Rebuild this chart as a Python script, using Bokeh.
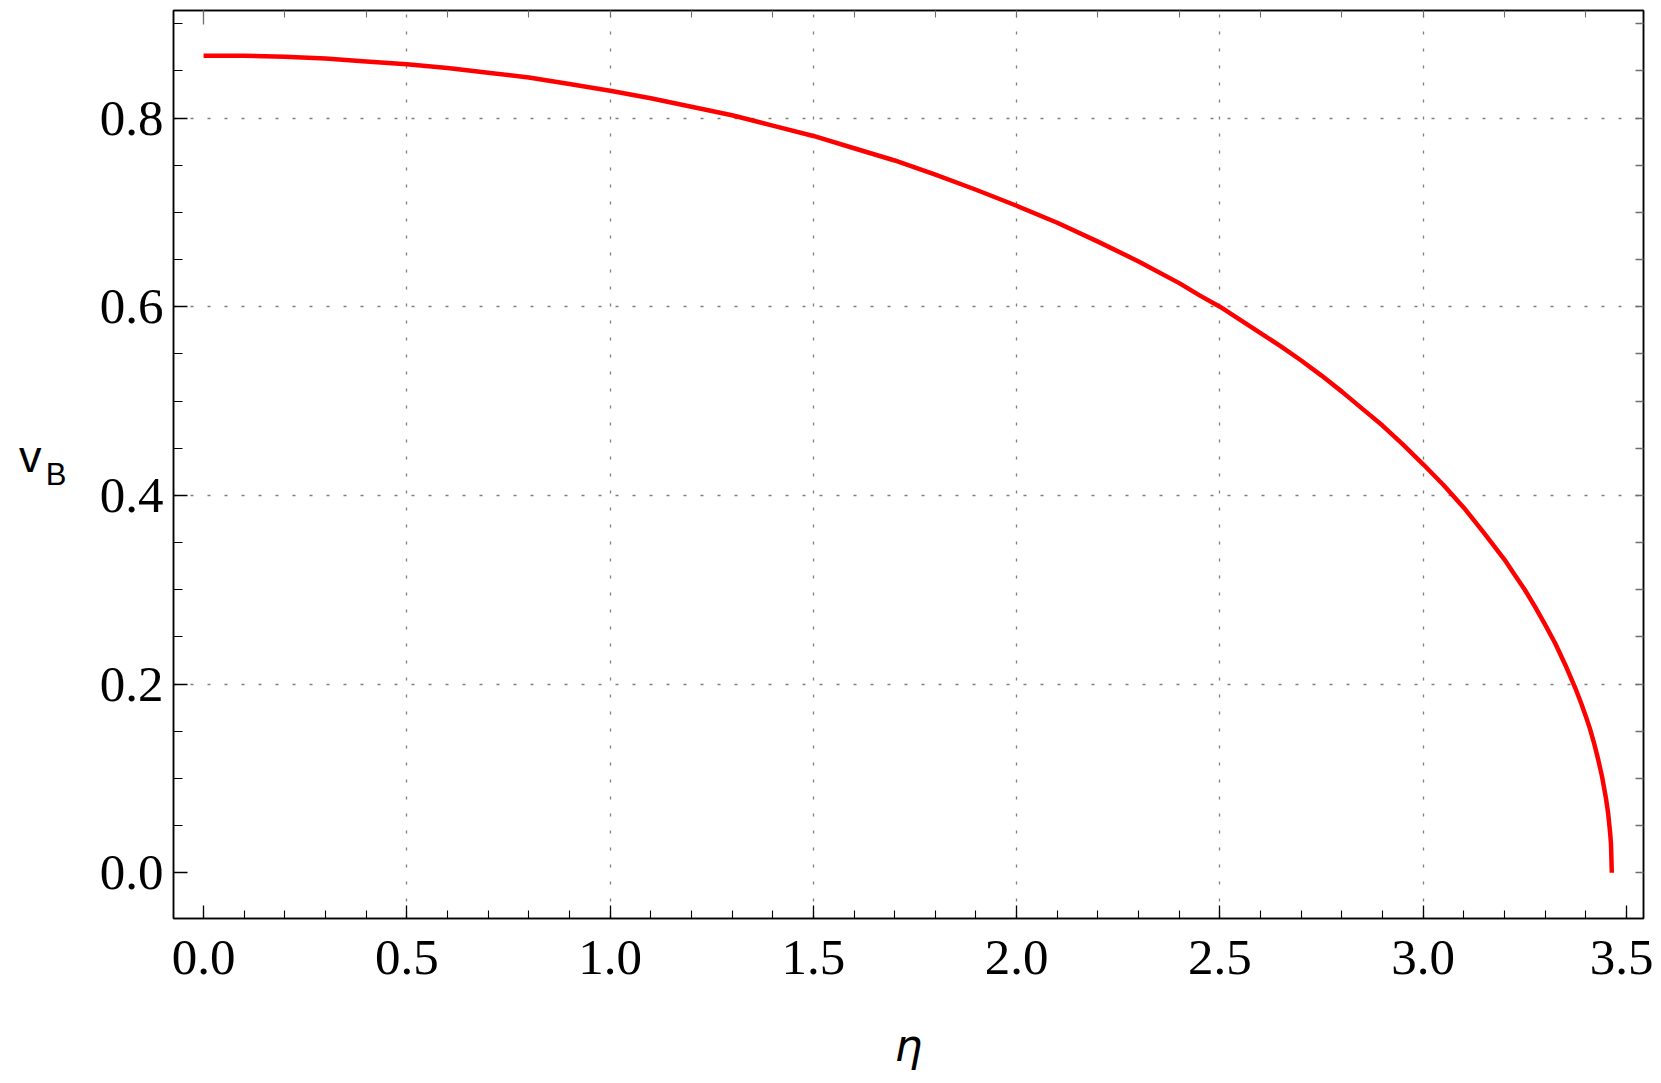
from bokeh.plotting import figure
from bokeh.models import Range1d, FixedTicker, LinearAxis, PrintfTickFormatter
from bokeh.embed import file_html
from bokeh.resources import INLINE

# data
eta = [0.0, 0.1, 0.2, 0.3, 0.4, 0.5, 0.6, 0.7, 0.8, 0.9, 1.0, 1.1, 1.2, 1.3, 1.4,
       1.5, 1.6, 1.7, 1.8, 1.9, 2.0, 2.1, 2.2, 2.3, 2.4, 2.45, 2.5, 2.55, 2.6, 2.65,
       2.7, 2.75, 2.8, 2.85, 2.9, 2.95, 3.0, 3.05, 3.1, 3.15, 3.2, 3.225, 3.25, 3.275,
       3.3, 3.325, 3.35, 3.375, 3.39, 3.4, 3.41, 3.42, 3.43, 3.44, 3.45, 3.455, 3.46,
       3.462, 3.464]
v_B = [0.866, 0.866, 0.865, 0.863, 0.860, 0.857, 0.853, 0.848, 0.843, 0.836, 0.829,
       0.821, 0.812, 0.803, 0.792, 0.781, 0.768, 0.755, 0.740, 0.724, 0.707, 0.689,
       0.669, 0.648, 0.625, 0.612, 0.600, 0.586, 0.572, 0.558, 0.543, 0.527, 0.510,
       0.492, 0.474, 0.454, 0.433, 0.411, 0.387, 0.360, 0.332, 0.316, 0.300, 0.282,
       0.263, 0.243, 0.220, 0.195, 0.178, 0.166, 0.153, 0.138, 0.121, 0.102, 0.078,
       0.063, 0.042, 0.031, 0.0]

x_major = [0.0, 0.5, 1.0, 1.5, 2.0, 2.5, 3.0, 3.5]
y_major = [0.0, 0.2, 0.4, 0.6, 0.8]
x_grid = [0.5, 1.0, 1.5, 2.0, 2.5, 3.0]
y_grid = [0.2, 0.4, 0.6, 0.8]
x_minor = [round(i * 0.1, 2) for i in range(-1, 36)]
y_minor = [round(i * 0.05, 3) for i in range(-1, 19)]
x_top_ticks = [round(i * 0.2, 2) for i in range(0, 18)]
y_right_ticks = [round(i * 0.05, 3) for i in range(-1, 19)]
x_title = "η"
y_title_main = "v"
y_title_sub = "B"

W, H = 1653, 1075
p = figure(width=W, height=H, output_backend="svg", toolbar_location=None,
           x_range=Range1d(-0.074, 3.542), y_range=Range1d(-0.0485, 0.914),
           min_border_left=173, min_border_right=10, min_border_top=10, min_border_bottom=157,
           x_axis_location=None, y_axis_location=None)
p.background_fill_color = "white"
p.border_fill_color = "white"
p.outline_line_color = "black"
p.outline_line_width = 1.5

FONT = "Liberation Serif"
TICK_GRAY = "#6e6e6e"

def style(ax, major, minor, labels=True, color="black", major_len=13, minor_len=8):
    ax.ticker = FixedTicker(ticks=major, minor_ticks=minor)
    ax.axis_line_color = "black"
    ax.axis_line_width = 1.5
    ax.major_tick_in = major_len
    ax.major_tick_out = 0
    ax.minor_tick_in = minor_len
    ax.minor_tick_out = 0
    ax.major_tick_line_color = color
    ax.minor_tick_line_color = color
    ax.major_tick_line_width = 1.3
    ax.minor_tick_line_width = 1.1
    ax.formatter = PrintfTickFormatter(format="%.1f")
    if labels:
        ax.major_label_text_font = FONT
        ax.major_label_text_font_size = "51px"
        ax.major_label_text_color = "black"
    else:
        ax.major_label_text_font_size = "0px"
        ax.major_label_text_color = None

def title_axis(text, size, font, standoff, line_height):
    ax = LinearAxis(ticker=FixedTicker(ticks=[]))
    ax.axis_line_color = None
    ax.major_tick_line_color = None
    ax.minor_tick_line_color = None
    ax.major_label_text_font_size = "0px"
    ax.axis_label = text
    ax.axis_label_text_font = font
    ax.axis_label_text_font_size = size
    ax.axis_label_text_font_style = "normal"
    ax.axis_label_text_color = "black"
    ax.axis_label_text_line_height = line_height
    ax.axis_label_orientation = "horizontal"
    ax.axis_label_standoff = standoff
    return ax

xb = LinearAxis(); style(xb, x_major, x_minor); xb.major_label_standoff = 22
xb.axis_label = x_title
xb.axis_label_text_font = "DejaVu Sans"
xb.axis_label_text_font_style = "italic"
xb.axis_label_text_font_size = "44px"
xb.axis_label_text_color = "black"
xb.axis_label_standoff = 43
yl = LinearAxis(); style(yl, y_major, y_minor, major_len=14, minor_len=9); yl.major_label_standoff = 10
xt = LinearAxis(); style(xt, [0.0], x_top_ticks, labels=False, color=TICK_GRAY, major_len=14, minor_len=7)
yr = LinearAxis(); style(yr, y_right_ticks, [], labels=False, color=TICK_GRAY, major_len=8, minor_len=0)
p.add_layout(xb, "below")
p.add_layout(yl, "left")
# leading / trailing line breaks nudge the subscript down and the main letter up
p.add_layout(title_axis("\n" + y_title_sub, "31px", "Liberation Sans", 30, 0.56), "left")
p.add_layout(title_axis(y_title_main + "\n", "45px", "Liberation Sans", 1, 0.3), "left")
p.add_layout(xt, "above")
p.add_layout(yr, "right")

p.xgrid.ticker = FixedTicker(ticks=x_grid)
p.ygrid.ticker = FixedTicker(ticks=y_grid)
for g in (p.xgrid, p.ygrid):
    g.grid_line_color = "#7f7f7f"
    g.grid_line_dash = "3 14"
    g.grid_line_width = 1.3

p.line(eta, v_B, line_color="#ff0000", line_width=4.5, line_cap="butt", line_join="round")

open("out.html", "w").write(file_html(p, INLINE))
